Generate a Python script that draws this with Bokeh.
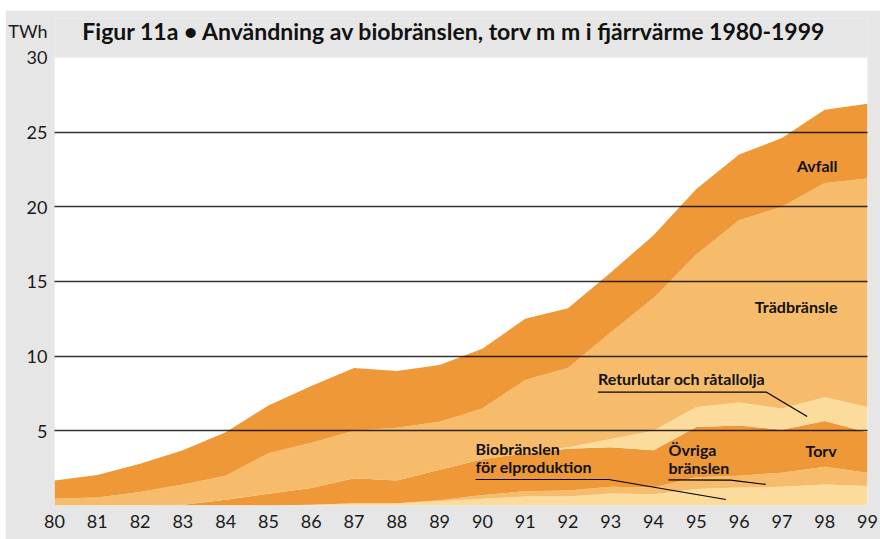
from bokeh.plotting import figure
from bokeh.models import FixedTicker, ColumnDataSource, Label, BoxAnnotation, Spacer
from bokeh.layouts import column, row
from bokeh.embed import file_html
from bokeh.resources import INLINE

# ---------------- data (TWh) ----------------
years = list(range(1980, 2000))
tick_labels = ["80", "81", "82", "83", "84", "85", "86", "87", "88", "89",
               "90", "91", "92", "93", "94", "95", "96", "97", "98", "99"]
y_ticks = [5, 10, 15, 20, 25, 30]
grid_ticks = [5, 10, 15, 20, 25]

bio_el = [0, 0, 0, 0, 0, 0, 0.05, 0.15, 0.15, 0.3,
          0.45, 0.6, 0.6, 0.8, 0.75, 1.1, 1.2, 1.25, 1.4, 1.3]
ovriga = [0, 0, 0, 0, 0, 0, 0, 0, 0, 0.05,
          0.25, 0.35, 0.4, 0.45, 0.45, 0.8, 0.8, 0.95, 1.2, 0.9]
torv = [0, 0, 0, 0.05, 0.38, 0.78, 1.13, 1.68, 1.52, 2.05,
        2.4, 2.55, 2.8, 2.65, 2.5, 3.35, 3.36, 2.87, 3.05, 2.7]
returlutar = [0, 0, 0, 0, 0, 0, 0, 0, 0, 0,
              0, 0, 0.1, 0.55, 1.3, 1.35, 1.54, 1.43, 1.6, 1.7]
tradbransle = [0.47, 0.53, 0.9, 1.35, 1.62, 2.72, 3.02, 3.17, 3.53, 3.2,
               3.4, 4.9, 5.3, 7.15, 8.9, 10.2, 12.2, 13.5, 14.35, 15.3]
avfall = [1.2, 1.52, 1.9, 2.3, 2.9, 3.2, 3.8, 4.2, 3.8, 3.8,
          4.0, 4.1, 4.0, 4.0, 4.2, 4.4, 4.4, 4.6, 4.9, 5.0]

title_text = "Figur 11a \u2022 Användning av biobränslen, torv m m i fjärrvärme 1980-1999"
unit_text = "TWh"
y_max = 30  # top of the white plot area

DARK = "#ef9838"
LIGHT = "#f6bc6b"
PALE = "#fbdc9d"
BG = "#e6e6e6"
LABEL_FONT = "Lato"
TICK_FONT = "Lato"

src = ColumnDataSource(dict(year=years, bio_el=bio_el, ovriga=ovriga, torv=torv,
                            returlutar=returlutar, tradbransle=tradbransle,
                            avfall=avfall))

# frame reaches up into the header band so the title can sit inside it
p = figure(width=875, height=529, output_backend="svg", toolbar_location=None,
           x_range=(1980, 1999), y_range=(0, 32.61),
           min_border_left=47, min_border_right=13, min_border_top=8,
           min_border_bottom=34)
p.border_fill_color = BG
p.background_fill_color = BG
p.outline_line_color = None

p.add_layout(BoxAnnotation(top=y_max, fill_color="white", fill_alpha=1,
                           line_color=None, level="underlay"))

p.varea_stack(stackers=["bio_el", "ovriga", "torv", "returlutar", "tradbransle", "avfall"],
              x="year", color=[PALE, LIGHT, DARK, PALE, LIGHT, DARK], source=src)

# axes
unit_pos = 31.75
p.xaxis.ticker = FixedTicker(ticks=years)
p.xaxis.major_label_overrides = {y: t for y, t in zip(years, tick_labels)}
p.yaxis.ticker = FixedTicker(ticks=y_ticks + [unit_pos])
p.yaxis.major_label_overrides = {unit_pos: unit_text, "31.75": unit_text}
for ax in (p.xaxis[0], p.yaxis[0]):
    ax.axis_line_color = None
    ax.major_tick_line_color = None
    ax.minor_tick_line_color = None
    ax.major_tick_in = 0
    ax.major_tick_out = 0
    ax.major_label_text_font = TICK_FONT
    ax.major_label_text_font_size = "18px"
    ax.major_label_text_color = "#1a1a1a"
p.xaxis.major_label_standoff = 9
p.yaxis.major_label_standoff = 7

p.xgrid.grid_line_color = None
p.ygrid.ticker = FixedTicker(ticks=grid_ticks)
p.ygrid.grid_line_color = "black"
p.ygrid.grid_line_alpha = 0.8
p.ygrid.grid_line_width = 1.6
p.ygrid.level = "overlay"

# title
p.add_layout(Label(x=1980.65, y=31.78, text=title_text, text_font=LABEL_FONT,
                   text_font_style="bold", text_font_size="23px",
                   text_baseline="middle", text_align="left", text_color="#111111"))

# series labels
lab = dict(text_font=LABEL_FONT, text_font_style="bold", text_font_size="16px",
           text_baseline="middle", text_color="#111111")
p.add_layout(Label(x=1998.30, y=22.8, text="Avfall", text_align="right", **lab))
p.add_layout(Label(x=1998.30, y=13.3, text="Trädbränsle", text_align="right", **lab))
p.add_layout(Label(x=1992.70, y=8.5, text="Returlutar och råtallolja", text_align="left", **lab))
p.add_layout(Label(x=1989.84, y=3.82, text="Biobränslen", text_align="left", **lab))
p.add_layout(Label(x=1989.84, y=2.61, text="för elproduktion", text_align="left", **lab))
p.add_layout(Label(x=1994.35, y=3.75, text="Övriga", text_align="left", **lab))
p.add_layout(Label(x=1994.35, y=2.55, text="bränslen", text_align="left", **lab))
p.add_layout(Label(x=1997.55, y=3.68, text="Torv", text_align="left", **lab))

# leader lines
p.line([1992.70, 1996.64, 1997.59], [7.59, 7.59, 5.96], line_color="black", line_width=1.2)
p.line([1989.84, 1992.95, 1995.69], [1.74, 1.74, 0.40], line_color="black", line_width=1.2)
p.line([1994.35, 1995.80, 1996.62], [1.72, 1.70, 1.41], line_color="black", line_width=1.2)

layout = column(Spacer(height=10), row(Spacer(width=5), p))
open("out.html", "w").write(file_html(layout, INLINE))
